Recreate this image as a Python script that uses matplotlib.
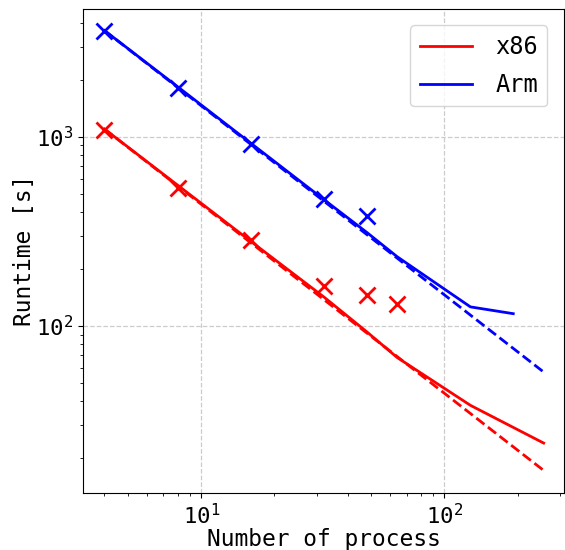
import numpy as np
import matplotlib
matplotlib.use("Agg")
import matplotlib.pyplot as plt

plt.rcParams['font.family'] = ['DejaVu Sans Mono']
plt.rcParams['mathtext.default'] = 'regular'

# measured runtimes
meas_x86_n = [4, 8, 16, 32, 48, 64]
meas_x86_t = [1090, 537, 285, 163, 146, 131]
meas_arm_n = [4, 8, 16, 32, 48]
meas_arm_t = [3640, 1815, 918, 470, 382]

# model predictions
model_x86_n = [4, 8, 16, 32, 48, 64, 128, 256]
model_x86_t = [1100, 555, 280, 142, 93, 68, 38, 24]
model_arm_n = [4, 8, 16, 32, 48, 64, 128, 192]
model_arm_t = [3650, 1840, 925, 465, 312, 232, 126, 116]

# ideal scaling
ideal_n = [4, 256]
ideal_x86_t = [1100, 17.2]
ideal_arm_t = [3650, 57.0]

fig = plt.figure(figsize=(5.65, 5.5), dpi=100)
ax = fig.add_axes([0.147, 0.104, 0.851, 0.880])

ax.plot(model_x86_n, model_x86_t, color='red', lw=2, label='x86')
ax.plot(model_arm_n, model_arm_t, color='blue', lw=2, label='Arm')
ax.plot(ideal_n, ideal_x86_t, color='red', lw=2, ls='--')
ax.plot(ideal_n, ideal_arm_t, color='blue', lw=2, ls='--')
ax.plot(meas_x86_n, meas_x86_t, 'x', color='red', ms=11, mew=2)
ax.plot(meas_arm_n, meas_arm_t, 'x', color='blue', ms=11, mew=2)

ax.set_xscale('log')
ax.set_yscale('log')
ax.set_xlim(3.27, 310)
ax.set_ylim(13.1, 4750)
ax.grid(True, which='major', ls='--', color='#cccccc', lw=0.9)
ax.tick_params(labelsize=16)
ax.set_xlabel('Number of process', fontsize=16.5, labelpad=0)
ax.set_ylabel('Runtime [s]', fontsize=16.5, labelpad=0)
ax.legend(loc='upper right', fontsize=17, handlelength=2.2, handletextpad=1.0,
          labelspacing=0.6, borderaxespad=0.7)

fig.savefig('out.png', dpi=100)
